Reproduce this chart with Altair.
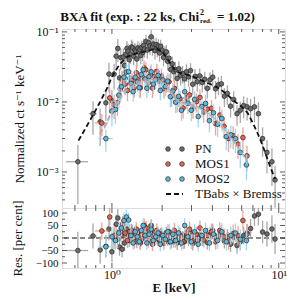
import altair as alt
import pandas as pd

FONT = "'Liberation Serif', 'Times New Roman', 'DejaVu Serif', serif"
W = 223
H_MAIN = 179
H_RES = 60
TICK = "#333333"

# ---------------- PN ----------------
pn_e = [0.625, 0.77, 0.85, 0.92, 0.96,
        1.0, 1.03, 1.06, 1.085, 1.11,
        1.13, 1.15, 1.17, 1.19, 1.21,
        1.23, 1.25, 1.27, 1.29, 1.31,
        1.33, 1.35, 1.37, 1.39, 1.41,
        1.43, 1.45, 1.47, 1.49, 1.51,
        1.53, 1.55, 1.57, 1.60, 1.63,
        1.66, 1.69, 1.72, 1.75, 1.78,
        1.81, 1.84, 1.87, 1.90, 1.93,
        1.96, 2.0, 2.04, 2.08, 2.12,
        2.16, 2.20, 2.25, 2.30, 2.35,
        2.40, 2.46, 2.52, 2.58, 2.65,
        2.72, 2.80, 2.88, 2.96, 3.05,
        3.15, 3.25, 3.36, 3.48, 3.60,
        3.73, 3.87, 4.02, 4.18, 4.35,
        4.53, 4.72, 4.92, 5.14, 5.37,
        5.62, 5.88, 6.16, 6.46, 6.78,
        7.15, 7.55, 8.0, 8.5, 9.1,
        9.5]
pn_f = [0.0014, 0.0068, 0.0052, 0.0097, 0.025,
        0.0104, 0.025, 0.045, 0.058, 0.022,
        0.043, 0.021, 0.044, 0.033, 0.048,
        0.058, 0.053, 0.040, 0.048, 0.061,
        0.059, 0.045, 0.055, 0.053, 0.041,
        0.059, 0.052, 0.056, 0.046, 0.060,
        0.051, 0.064, 0.057, 0.073, 0.055,
        0.070, 0.063, 0.085, 0.061, 0.067,
        0.054, 0.066, 0.058, 0.063, 0.050,
        0.062, 0.055, 0.043, 0.050, 0.052,
        0.038, 0.042, 0.029, 0.035, 0.027,
        0.029, 0.0216, 0.0297, 0.0239, 0.0255,
        0.0213, 0.0270, 0.0228, 0.0280, 0.0179,
        0.0231, 0.0194, 0.0235, 0.0190, 0.0211,
        0.0156, 0.0207, 0.0226, 0.0154, 0.0176,
        0.0181, 0.0121, 0.0132, 0.0087, 0.0108,
        0.0068, 0.0076, 0.0089, 0.0085, 0.0080,
        0.0085, 0.0068, 0.0030, 0.0019, 0.0014,
        0.00077]
pn_res = [-50, 8, -48, -33, 36,
          -55, -4, 55, 80, -36,
          20, -45, 10, -20, 15,
          35, 20, -10, 5, 30,
          25, -5, 15, 10, -15,
          20, 5, 12, -8, 18,
          0, 25, 10, 40, 5,
          30, 15, 50, 10, 20,
          -5, 15, 0, 10, -10,
          15, 5, -12, 8, 20,
          -5, 10, -18, 10, -10,
          5, -20, 12, -8, 0,
          -15, 10, -5, 18, -22,
          5, -10, 12, -5, 8,
          -18, 15, 30, -8, 10,
          22, -12, 5, -25, 3,
          -30, -15, 10, 20, 38,
          88, 95, 24, 16, 36,
          -4]
pn_err = [75, 50, 55, 45, 45,
          42, 40, 38, 36, 35,
          34, 33, 32, 30, 30,
          28, 28, 27, 27, 27,
          26, 26, 26, 26, 26,
          25, 25, 25, 25, 25,
          25, 25, 25, 25, 25,
          25, 25, 25, 25, 25,
          25, 25, 25, 25, 25,
          25, 25, 25, 25, 25,
          26, 26, 27, 27, 28,
          28, 28, 28, 28, 28,
          28, 28, 28, 28, 28,
          28, 28, 28, 28, 28,
          28, 28, 28, 29, 29,
          30, 30, 31, 31, 32,
          33, 34, 35, 36, 38,
          40, 45, 45, 50, 55,
          60]
pn_ew = [0.095, 0.04, 0.03, 0.02, 0.015,
         0.015, 0.012, 0.012, 0.012, 0.01,
         0.01, 0.01, 0.01, 0.01, 0.01,
         0.01, 0.01, 0.01, 0.01, 0.01,
         0.01, 0.01, 0.01, 0.01, 0.01,
         0.01, 0.01, 0.01, 0.01, 0.01,
         0.01, 0.01, 0.01, 0.015, 0.015,
         0.015, 0.015, 0.015, 0.015, 0.015,
         0.015, 0.015, 0.015, 0.015, 0.015,
         0.015, 0.02, 0.02, 0.02, 0.02,
         0.02, 0.02, 0.025, 0.025, 0.025,
         0.025, 0.03, 0.03, 0.03, 0.035,
         0.035, 0.04, 0.04, 0.04, 0.045,
         0.05, 0.05, 0.055, 0.06, 0.06,
         0.065, 0.07, 0.075, 0.08, 0.085,
         0.09, 0.095, 0.1, 0.11, 0.12,
         0.12, 0.13, 0.14, 0.15, 0.16,
         0.18, 0.2, 0.22, 0.25, 0.28,
         0.2]

# ---------------- MOS1 ----------------
m1_e = [0.87, 0.97, 1.03, 1.08, 1.12,
        1.16, 1.20, 1.24, 1.28, 1.32,
        1.36, 1.40, 1.44, 1.48, 1.52,
        1.56, 1.60, 1.65, 1.70, 1.75,
        1.80, 1.86, 1.92, 1.98, 2.05,
        2.12, 2.20, 2.28, 2.37, 2.46,
        2.56, 2.67, 2.79, 2.92, 3.06,
        3.21, 3.37, 3.55, 3.74, 3.95,
        4.18, 4.43, 4.70, 5.0, 5.33,
        5.70, 6.10, 6.45]
m1_f = [0.0050, 0.0114, 0.0091, 0.0098, 0.0153,
        0.0208, 0.0180, 0.0146, 0.0218, 0.0201,
        0.0160, 0.0261, 0.0207, 0.0159, 0.0231,
        0.0305, 0.0287, 0.0187, 0.0252, 0.0158,
        0.0231, 0.0273, 0.0198, 0.0233, 0.0156,
        0.0187, 0.0194, 0.0122, 0.0156, 0.0101,
        0.0111, 0.0082, 0.0114, 0.0126, 0.0082,
        0.0101, 0.0116, 0.0072, 0.0079, 0.0081,
        0.0049, 0.0065, 0.0045, 0.0030, 0.0033,
        0.0025, 0.0031, 0.0017]
m1_res = [28, 84, 10, -5, 30,
          55, 20, -10, 25, 10,
          -15, 35, 5, -20, 15,
          50, 40, -10, 20, -25,
          10, 30, -5, 15, -20,
          5, 25, -10, 30, -5,
          12, -15, 20, 35, -10,
          15, 40, -8, 10, 25,
          -15, 30, 5, -12, 18,
          10, 70, 15]
m1_err = [35, 40, 38, 36, 34,
          32, 30, 30, 30, 28,
          28, 28, 28, 28, 28,
          28, 28, 28, 28, 28,
          28, 28, 28, 28, 28,
          28, 30, 30, 30, 30,
          30, 30, 30, 30, 30,
          30, 30, 30, 32, 32,
          32, 34, 34, 36, 36,
          38, 40, 40]
m1_ew = [0.08, 0.03, 0.02, 0.02, 0.02,
         0.02, 0.02, 0.02, 0.02, 0.02,
         0.02, 0.02, 0.02, 0.02, 0.02,
         0.02, 0.02, 0.025, 0.025, 0.025,
         0.03, 0.03, 0.03, 0.03, 0.035,
         0.035, 0.04, 0.04, 0.045, 0.045,
         0.05, 0.055, 0.06, 0.065, 0.07,
         0.075, 0.08, 0.09, 0.1, 0.1,
         0.11, 0.12, 0.13, 0.15, 0.16,
         0.18, 0.2, 0.18]

# ---------------- MOS2 ----------------
m2_e = [0.92, 1.00, 1.05, 1.10, 1.14,
        1.18, 1.22, 1.26, 1.30, 1.34,
        1.38, 1.42, 1.46, 1.50, 1.54,
        1.58, 1.62, 1.67, 1.72, 1.77,
        1.83, 1.89, 1.95, 2.02, 2.09,
        2.16, 2.24, 2.32, 2.41, 2.51,
        2.61, 2.73, 2.85, 2.99, 3.13,
        3.29, 3.46, 3.64, 3.84, 4.06,
        4.30, 4.56, 4.85, 5.16, 5.50,
        5.88, 6.40]
m2_f = [0.0030, 0.0074, 0.0078, 0.0125, 0.0165,
        0.0226, 0.0267, 0.0270, 0.0184, 0.0140,
        0.0225, 0.0193, 0.0160, 0.0247, 0.0288,
        0.0213, 0.0157, 0.0229, 0.0270, 0.0180,
        0.0210, 0.0239, 0.0146, 0.0207, 0.0166,
        0.0198, 0.0119, 0.0143, 0.0099, 0.0120,
        0.0076, 0.0140, 0.0096, 0.0076, 0.0109,
        0.0062, 0.0086, 0.0095, 0.0054, 0.0070,
        0.0048, 0.0058, 0.0032, 0.0034, 0.0030,
        0.0019, 0.00126]
m2_res = [-35, 5, -10, 20, 40,
          70, 84, 72, 10, -20,
          25, 5, -15, 30, 50,
          10, -20, 15, 35, -10,
          5, 20, -25, 10, -5,
          25, -15, 15, -10, 20,
          -20, 50, 5, -15, 25,
          -25, 10, 30, -20, 15,
          -10, 25, -15, 10, 20,
          -5, -10]
m2_err = [35, 40, 38, 36, 34,
          32, 30, 30, 30, 28,
          28, 28, 28, 28, 28,
          28, 28, 28, 28, 28,
          28, 28, 28, 28, 28,
          30, 30, 30, 30, 30,
          30, 30, 30, 30, 30,
          30, 30, 32, 32, 32,
          34, 34, 36, 36, 38,
          40, 40]
m2_ew = [0.09, 0.03, 0.02, 0.02, 0.02,
         0.02, 0.02, 0.02, 0.02, 0.02,
         0.02, 0.02, 0.02, 0.02, 0.02,
         0.02, 0.025, 0.025, 0.025, 0.03,
         0.03, 0.03, 0.035, 0.035, 0.035,
         0.04, 0.04, 0.045, 0.045, 0.05,
         0.055, 0.06, 0.065, 0.07, 0.075,
         0.08, 0.09, 0.1, 0.1, 0.11,
         0.12, 0.13, 0.15, 0.16, 0.18,
         0.2, 0.25]

# ---------------- models (TBabs x Bremss) ----------------
pnm_e = [0.63, 0.75, 0.85, 0.95, 1.0, 1.1, 1.2, 1.3, 1.5, 1.7, 1.85, 2.0, 2.1, 2.2,
         2.3, 2.45, 2.7, 3.0, 3.5, 4.0, 4.5, 5.0, 5.5, 6.0, 6.5, 7.0, 7.5, 8.0, 8.5,
         9.0, 9.5]
pnm_f = [0.0028, 0.0058, 0.0100, 0.0170, 0.0230, 0.0330, 0.0420, 0.0470, 0.0510,
         0.0550, 0.0580, 0.0520, 0.0450, 0.0380, 0.0320, 0.0270, 0.0250, 0.0235,
         0.0200, 0.0175, 0.0150, 0.0122, 0.0100, 0.0085, 0.0070, 0.0050, 0.0035,
         0.0024, 0.0016, 0.0011, 0.0008]
m1m_e = [0.85, 0.95, 1.0, 1.1, 1.2, 1.3, 1.5, 1.7, 1.9, 2.1, 2.3, 2.5, 2.8, 3.2,
         3.6, 4.0, 4.5, 5.0, 5.5, 6.0, 6.5]
m1m_f = [0.0035, 0.0058, 0.0075, 0.0110, 0.0150, 0.0180, 0.0200, 0.0210, 0.0210,
         0.0180, 0.0130, 0.0102, 0.0095, 0.0088, 0.0075, 0.0062, 0.0047, 0.0035,
         0.0026, 0.0019, 0.0014]
m2m_e = [0.9, 1.0, 1.1, 1.2, 1.3, 1.5, 1.7, 1.9, 2.1, 2.3, 2.5, 2.8, 3.2, 3.6,
         4.0, 4.5, 5.0, 5.5, 6.0, 6.5]
m2m_f = [0.0042, 0.0070, 0.0104, 0.0140, 0.0167, 0.0190, 0.0200, 0.0199, 0.0172,
         0.0127, 0.0101, 0.0092, 0.0085, 0.0074, 0.0062, 0.0047, 0.0034, 0.0025,
         0.0019, 0.0013]

# ---------------- axes ticks ----------------
x_major = [1, 10]
x_minor = [0.6, 0.7, 0.8, 0.9, 2, 3, 4, 5, 6, 7, 8, 9]
y_major = [0.001, 0.01, 0.1]
y_minor = [0.0004, 0.0005, 0.0006, 0.0007, 0.0008, 0.0009,
           0.002, 0.003, 0.004, 0.005, 0.006, 0.007, 0.008, 0.009,
           0.02, 0.03, 0.04, 0.05, 0.06, 0.07, 0.08, 0.09]
r_major = [-100, -50, 0, 50, 100]
r_minor = [-75, -25, 25, 75]

legend_labels = ["PN", "MOS1", "MOS2", "TBabs × Bremss"]
inst_fill = ["#6b6b6b", "#e8644f", "#5db8dc"]
inst_err = ["#a9a9a9", "#f3a397", "#a3d7ee"]
model_col = ["#111111", "#f08b7d", "#7cc8e8"]

title_parts = ["BXA fit (exp. : 22 ks, Chi", "2", "red.", "= 1.02)"]

xscale = alt.Scale(type="log", domain=[0.502, 10.9], nice=False)
yscale_m = alt.Scale(type="log", domain=[3.06e-4, 0.110], nice=False)
yscale_r = alt.Scale(domain=[-120, 120], nice=False, zero=False)

ax_common = dict(ticks=False, domain=False, grid=False, labelFont=FONT,
                 labelColor="#111", titleFont=FONT,
                 titleFontSize=13, titleColor="#111", labelOverlap=False)

y_ax_m = alt.Axis(values=y_major,
                  labelExpr="datum.value < 0.005 ? '10⁻³' : (datum.value < 0.05 ? '10⁻²' : '10⁻¹')",
                  title="Normalized ct s⁻¹ keV⁻¹", labelPadding=4, titleX=-36,
                  labelFontSize=12, titleFontWeight="normal", **ax_common)
y_ax_r = alt.Axis(values=r_major,
                  labelExpr="datum.value < 0 ? '−' + abs(datum.value) : '' + datum.value",
                  title="Res. [per cent]", labelPadding=4, titleX=-38,
                  labelFontSize=11, titleFontWeight="normal", **ax_common)
x_ax_r = alt.Axis(values=x_major, labelExpr="datum.value < 5 ? '10⁰' : '10¹'",
                  title="E [keV]", labelPadding=1, titlePadding=1,
                  labelFontSize=12, titleFontWeight="bold", labelFlush=False,
                  **ax_common)

dummy = pd.DataFrame({"a": [0]})


def make_df(e, f, err, res, ew):
    return pd.DataFrame({"E": e, "F": f, "err": err, "res": res, "ew": ew})


datasets = [make_df(pn_e, pn_f, pn_err, pn_res, pn_ew),
            make_df(m1_e, m1_f, m1_err, m1_res, m1_ew),
            make_df(m2_e, m2_f, m2_err, m2_res, m2_ew)]


def inst_layers(df, i, resid, xax, yax, yscale):
    base = alt.Chart(df).transform_calculate(
        flo="datum.F * (1 - datum.err / 100)",
        fhi="datum.F * (1 + datum.err / 100)",
        rlo="datum.res - datum.err",
        rhi="datum.res + datum.err",
        elo="datum.E - datum.ew",
        ehi="datum.E + datum.ew",
    )
    yc, ylo, yhi = ("res", "rlo", "rhi") if resid else ("F", "flo", "fhi")
    ebar = base.mark_rule(clip=True, color=inst_err[i], strokeWidth=1.3).encode(
        x=alt.X("E:Q", scale=xscale, axis=xax),
        y=alt.Y(f"{ylo}:Q", scale=yscale, axis=yax),
        y2=f"{yhi}:Q")
    xbar = base.mark_rule(clip=True, color=inst_err[i], strokeWidth=1.3).encode(
        x=alt.X("elo:Q", scale=xscale, axis=xax),
        x2="ehi:Q",
        y=alt.Y(f"{yc}:Q", scale=yscale, axis=yax))
    pts = base.mark_circle(clip=True, size=22, color=inst_fill[i], opacity=1,
                           stroke="#262626", strokeWidth=0.7).encode(
        x=alt.X("E:Q", scale=xscale, axis=xax),
        y=alt.Y(f"{yc}:Q", scale=yscale, axis=yax))
    return [ebar, xbar, pts]


def xtick_layers(H, xax):
    out = []
    for vals, ln in ((x_major, 5), (x_minor, 3)):
        df = pd.DataFrame({"E": vals})
        for y0, y1 in ((H, H - ln), (0, ln)):
            out.append(alt.Chart(df).mark_rule(color=TICK, strokeWidth=0.8).encode(
                x=alt.X("E:Q", scale=xscale, axis=xax),
                y=alt.value(y0), y2=alt.value(y1)))
    return out


def ytick_layers(major, minor, yscale, yax):
    out = []
    for vals, ln in ((major, 5), (minor, 3)):
        df = pd.DataFrame({"v": vals})
        for x0, x1 in ((0, ln), (W, W - ln)):
            out.append(alt.Chart(df).mark_rule(color=TICK, strokeWidth=0.8).encode(
                y=alt.Y("v:Q", scale=yscale, axis=yax),
                x=alt.value(x0), x2=alt.value(x1)))
    return out


# ---------------- main panel ----------------
main_layers = []
for i, df in enumerate(datasets):
    main_layers += inst_layers(df, i, False, None, y_ax_m, yscale_m)

for i, (me, mf) in enumerate(((m1m_e, m1m_f), (m2m_e, m2m_f), (pnm_e, pnm_f))):
    col = model_col[[1, 2, 0][i]]
    main_layers.append(
        alt.Chart(pd.DataFrame({"E": me, "F": mf})).mark_line(
            clip=True, color=col, strokeDash=[5, 3],
            strokeWidth=1.8 if i == 2 else 1.4).encode(
            x=alt.X("E:Q", scale=xscale, axis=None),
            y=alt.Y("F:Q", scale=yscale_m, axis=y_ax_m)))

main_layers += xtick_layers(H_MAIN, None)
main_layers += ytick_layers(y_major, y_minor, yscale_m, y_ax_m)

# legend
leg_y = [120, 135, 150, 165]
for i in range(3):
    for lx in (106, 120):
        main_layers.append(alt.Chart(dummy).mark_circle(
            size=22, color=inst_fill[i], opacity=1, stroke="#262626",
            strokeWidth=0.7).encode(x=alt.value(lx), y=alt.value(leg_y[i])))
main_layers.append(alt.Chart(dummy).mark_rule(
    color="#111", strokeWidth=1.8, strokeDash=[5, 3]).encode(
    x=alt.value(104), x2=alt.value(121), y=alt.value(leg_y[3])))
for i, lab in enumerate(legend_labels):
    main_layers.append(alt.Chart(dummy).mark_text(
        align="left", baseline="middle", font=FONT, fontSize=13,
        color="#111").encode(x=alt.value(133), y=alt.value(leg_y[i]),
                             text=alt.value(lab)))

# title
main_layers.append(alt.Chart(dummy).mark_text(
    align="right", baseline="middle", font=FONT, fontSize=13, fontWeight="bold",
    color="#111").encode(x=alt.value(137), y=alt.value(-12),
                         text=alt.value(title_parts[0])))
main_layers.append(alt.Chart(dummy).mark_text(
    align="left", baseline="middle", font=FONT, fontSize=8, fontWeight="bold",
    color="#111").encode(x=alt.value(138), y=alt.value(-16),
                         text=alt.value(title_parts[1])))
main_layers.append(alt.Chart(dummy).mark_text(
    align="left", baseline="middle", font=FONT, fontSize=7, fontWeight="bold",
    color="#111").encode(x=alt.value(138), y=alt.value(-8),
                         text=alt.value(title_parts[2])))
main_layers.append(alt.Chart(dummy).mark_text(
    align="left", baseline="middle", font=FONT, fontSize=13, fontWeight="bold",
    color="#111").encode(x=alt.value(155), y=alt.value(-12),
                         text=alt.value(title_parts[3])))

main = alt.layer(*main_layers).properties(width=W, height=H_MAIN)

# ---------------- residual panel ----------------
res_layers = [alt.Chart(pd.DataFrame({"r": [0]})).mark_rule(
    color="#111", strokeWidth=1.2, strokeDash=[5, 3]).encode(
    y=alt.Y("r:Q", scale=yscale_r, axis=y_ax_r))]
for i, df in enumerate(datasets):
    res_layers += inst_layers(df, i, True, x_ax_r, y_ax_r, yscale_r)
res_layers += xtick_layers(H_RES, x_ax_r)
res_layers += ytick_layers(r_major, r_minor, yscale_r, y_ax_r)

resid = alt.layer(*res_layers).properties(width=W, height=H_RES)

chart = alt.vconcat(main, resid, spacing=0, bounds="flush").properties(
    padding={"left": 2, "top": 0, "right": 0, "bottom": 0}
).configure_view(stroke="#222222", strokeWidth=1).configure(font=FONT)

chart.save("out.html", embed_options={"renderer": "svg", "actions": False})
